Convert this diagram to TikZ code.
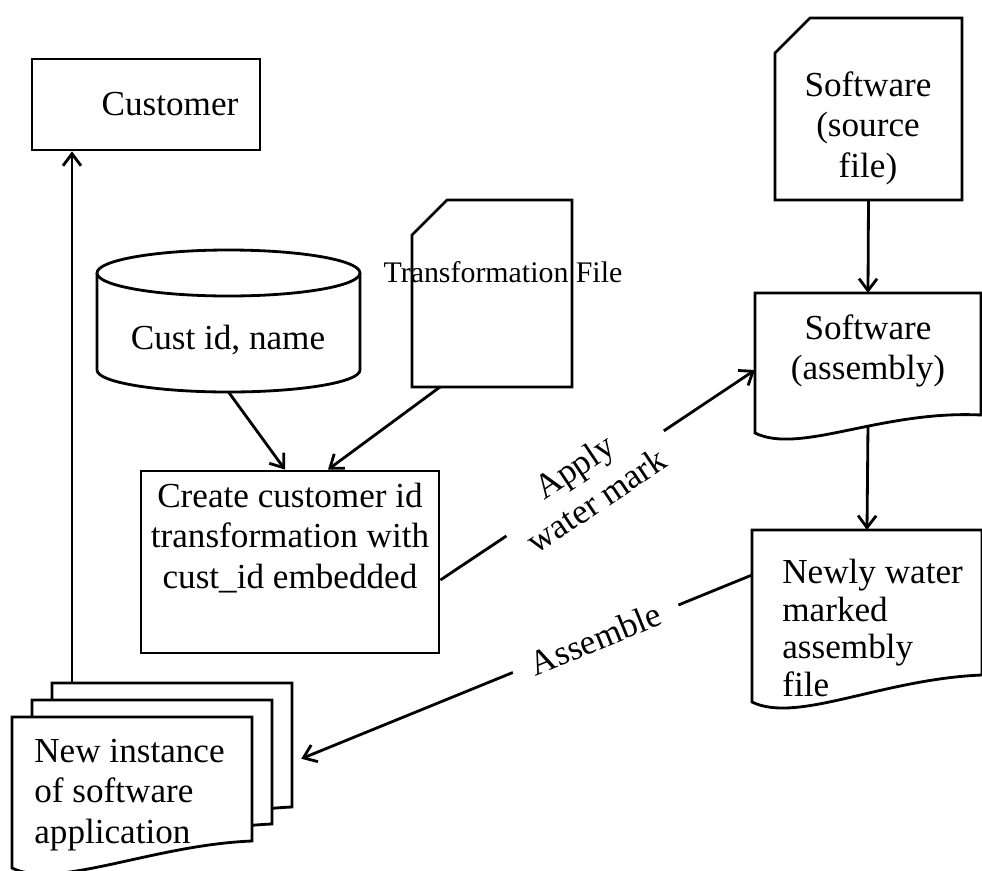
\documentclass[tikz,border=0pt]{standalone}
\usepackage{fontspec}
\setmainfont{Liberation Serif}
\usetikzlibrary{arrows.meta,calc}
\tikzset{
  box/.style={draw=black, line width=1.6pt, align=center, inner sep=1mm},
  frame/.style={inner sep=0pt, outer sep=0pt},
  txt/.style={inner sep=0pt, align=center},
  line/.style={draw=black, line width=1.6pt},
  arrow/.style={-{Straight Barb[length=2.4mm, width=3.6mm]}, line width=1.6pt, draw=black},
  tag/.style={sloped, fill=white, align=center, inner xsep=3mm, inner ysep=0.5mm}
}
\begin{document}
\begin{tikzpicture}[x=0.2mm, y=-0.2mm, font=\fontsize{20}{23}\selectfont]
  \path[fill=white, use as bounding box] (0,0) rectangle (982,871);
  % boxes, and frames for the drawn shapes
  \node[box, minimum width=45.6mm, minimum height=18.2mm] (cust) at (146,104.5) {\hspace*{9.6mm}Customer};
  \node[frame, minimum width=52.6mm, minimum height=28.4mm] (db) at (228.5,321) {};
  \node[frame, minimum width=32mm, minimum height=37.4mm] (tf) at (492,293.5) {};
  \node[box, minimum width=59.6mm, minimum height=36.4mm] (create) at (290,562) {Create customer id\\transformation with\\cust\_id embedded\\\strut};
  \node[frame, minimum width=37.4mm, minimum height=36.4mm] (src) at (868.5,109) {};
  \node[frame, minimum width=45.2mm, minimum height=28mm] (asm) at (868,363) {};
  \node[frame, minimum width=46mm, minimum height=34.4mm] (new) at (867,616) {};
  \node[frame, minimum width=48mm, minimum height=30.2mm] (app3) at (172,758.5) {};
  \node[frame, minimum width=48mm, minimum height=30.2mm] (app2) at (152,775.5) {};
  \node[frame, minimum width=48mm, minimum height=30.2mm] (app) at (132,792.5) {};

  % database
  \draw[line] ([yshift=-4.6mm]db.north) ellipse [x radius=26.3mm, y radius=4.6mm];
  \draw[line] ([yshift=-4.6mm]db.north west) -- ([yshift=4.4mm]db.south west)
    arc[start angle=180, end angle=360, x radius=26.3mm, y radius=4.4mm] -- ([yshift=-4.6mm]db.north east);
  % files with a cut corner
  \foreach \s in {tf,src}
    \draw[line] ([yshift=-7mm]\s.north west) -- ([xshift=7mm]\s.north west) -- (\s.north east)
      -- (\s.south east) -- (\s.south west) -- cycle;
  % documents with a wavy bottom
  \foreach \s/\r in {asm/3.6mm, new/5.4mm, app3/5.4mm, app2/5.4mm, app/5.4mm}
    \draw[line, fill=white] (\s.south west) -- (\s.north west) -- (\s.north east) -- ([yshift=\r]\s.south east)
      .. controls ([xshift=-20mm, yshift=4.6mm]\s.south east) and ([xshift=9mm, yshift=-4.4mm]\s.south west) .. (\s.south west) -- cycle;

  \node[txt] (dbtext) at (228,340) {Cust id, name};
  \node[txt, font=\fontsize{17}{20}\selectfont] (tftext) at (503,272) {Transformation File};
  \node[txt] (srctext) at (868,128) {Software\\(source\\file)};
  \node[txt] (asmtext) at (868,351) {Software\\(assembly)};
  \node[txt, anchor=west, align=left, font=\fontsize{20}{21.5}\selectfont] (newtext) at (782,628) {Newly water\\marked\\assembly\\file};
  \node[txt, anchor=west, align=left] (apptext) at (34,795) {New instance\\of software\\application};

  \coordinate (up) at ([xshift=4mm]app3.north west);
  \draw[arrow] (up) -- (up |- cust.south);
  \draw[arrow] (db.south) -- ([xshift=-1mm]create.north);
  \draw[arrow] ([xshift=5.6mm]tf.south west) -- ([xshift=7.6mm]create.north);
  \draw[arrow] (src.south) -- (asm.north);
  \draw[arrow] ([yshift=1.6mm]asm.south) -- (new.north);
  \draw[arrow] ([yshift=-3.6mm]create.east) -- node[tag, pos=0.46] {Apply\\water mark} ([yshift=-1.4mm]asm.west);
  \draw[arrow, shorten >=2mm] ([yshift=8.2mm]new.west) -- node[tag, pos=0.34, inner xsep=4mm] {Assemble} ([yshift=-0.8mm]app3.east);
\end{tikzpicture}
\end{document}
